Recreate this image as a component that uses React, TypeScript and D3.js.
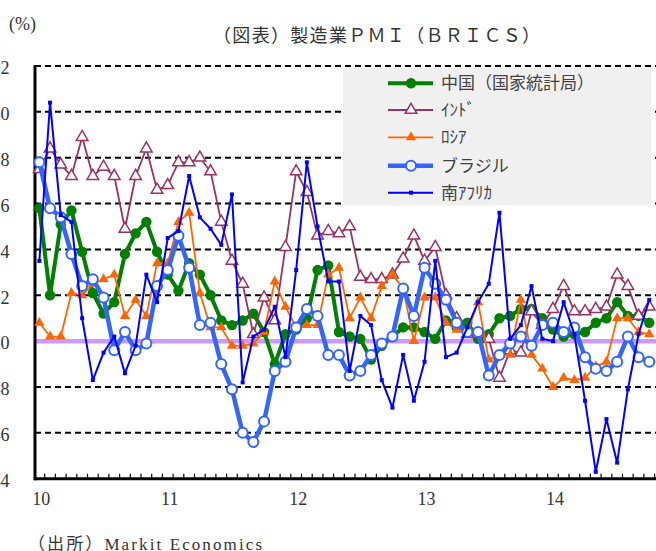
import { useEffect } from "react";
import * as d3 from "d3";

// monthly, Jan 2010 - Oct 2014
const years = ["10", "11", "12", "13", "14"];
const yTicks = [44, 46, 48, 50, 52, 54, 56, 58, 60, 62];

const china = [
  55.8, 52.0, 55.1, 55.7, 53.9, 52.1, 51.2, 51.7, 53.8, 54.7, 55.2, 53.9,
  52.9, 52.2, 53.4, 52.9, 52.0, 50.9, 50.7, 50.9, 51.2, 50.4, 49.0, 50.3,
  50.5, 51.0, 53.1, 53.3, 50.4, 50.2, 50.1, 49.2, 49.8, 50.2, 50.6, 50.6,
  50.4, 50.1, 50.9, 50.6, 50.8, 50.1, 50.3, 51.0, 51.1, 51.4, 51.4, 51.0,
  50.5, 50.2, 50.3, 50.4, 50.8, 51.0, 51.7, 51.1, 51.1, 50.8,
];
const india = [
  57.5, 58.4, 57.7, 57.2, 58.9, 57.2, 57.6, 57.2, 54.9, 57.2, 58.4, 56.6,
  56.8, 57.8, 57.8, 58.0, 57.4, 55.2, 53.5, 52.5, 50.3, 51.9, 50.9, 54.1,
  57.4, 56.5, 54.6, 54.8, 54.7, 55.0, 52.8, 52.7, 52.7, 52.9, 53.6, 54.6,
  53.5, 54.1, 52.0, 51.0, 50.3, 50.3, 50.1, 48.4, 49.6, 49.5, 51.3, 50.7,
  51.4, 52.4, 51.3, 51.3, 51.4, 51.5, 52.9, 52.4, 51.1, 51.5,
];
const russia = [
  50.8, 50.2, 50.2, 52.1, 52.0, 52.5, 52.7, 52.9, 51.1, 51.8, 51.1, 53.4,
  53.4, 55.2, 55.6, 52.1, 50.6, 50.6, 49.8, 49.8, 49.9, 50.4, 52.6, 51.5,
  50.6, 50.7, 50.7, 52.9, 53.2, 51.0, 51.9, 51.0, 52.4, 52.9, 52.3, 50.0,
  51.9, 51.9, 50.8, 50.5, 50.4, 51.7, 49.2, 49.4, 49.4, 51.8, 49.4, 48.8,
  48.0, 48.4, 48.3, 48.4, 48.9, 49.1, 51.0, 51.0, 50.4, 50.3,
];
const brazil = [
  57.8, 55.8, 55.4, 53.8, 52.4, 52.7, 51.9, 49.6, 50.4, 49.6, 49.9, 52.4,
  53.1, 54.6, 53.2, 50.7, 50.8, 49.0, 47.9, 46.0, 45.6, 46.5, 48.7, 49.1,
  50.6, 51.4, 51.1, 49.4, 49.4, 48.5, 48.7, 49.4, 49.9, 50.2, 52.3, 51.1,
  53.2, 52.5, 51.8, 50.8, 50.4, 50.4, 48.5, 49.4, 49.9, 50.2, 49.8, 50.7,
  50.8, 50.4, 50.6, 49.3, 48.8, 48.7, 49.1, 50.2, 49.3, 49.1,
];
const southAfrica = [
  53.5, 60.4, 55.5, 55.2, 51.0, 48.3, 49.5, 50.2, 48.6, 49.8, 52.9, 51.7,
  54.5, 54.8, 57.2, 55.4, 54.9, 54.2, 56.4, 48.2, 50.2, 50.5, 51.5, 49.3,
  53.1, 57.8, 55.0, 52.6, 52.6, 48.7, 51.1, 50.7, 48.3, 47.1, 49.4, 47.4,
  49.1, 53.5, 49.3, 49.5, 50.6, 51.7, 52.5, 55.6, 50.1, 50.7, 52.4, 50.1,
  50.0, 51.7, 50.3, 47.4, 44.3, 46.6, 44.7, 47.9, 50.3, 51.8,
];

const W = 656,
  H = 551;
const JP = "'Noto Sans CJK JP', sans-serif";
const MIN = "'Liberation Serif', 'Noto Sans CJK JP', serif";

const months = years.flatMap((yy) => d3.range(1, 13).map((m) => `${yy}-${m}`));
const x = d3.scaleBand<string>().domain(months).range([34, 34 + 60 * 10.7]);
const y = d3.scaleLinear().domain([44, 62]).range([478.7, 66]);
const cx = (i: number) => (x(months[i]) as number) + x.bandwidth() / 2;

type Marker = "dot" | "triOpen" | "triFill" | "ring" | "square";
const series: {
  name: string;
  values: number[];
  color: string;
  width: number;
  marker: Marker;
}[] = [
  { name: "中国（国家統計局）", values: china, color: "#008000", width: 4, marker: "dot" },
  { name: "ｲﾝﾄﾞ", values: india, color: "#993366", width: 1.8, marker: "triOpen" },
  { name: "ﾛｼｱ", values: russia, color: "#ff6600", width: 1.8, marker: "triFill" },
  { name: "ブラジル", values: brazil, color: "#3366ff", width: 4.5, marker: "ring" },
  { name: "南ｱﾌﾘｶ", values: southAfrica, color: "#0000ff", width: 2, marker: "square" },
];

const triOpen = d3.symbol(d3.symbolTriangle, 58)() as string;
const triFill = d3.symbol(d3.symbolTriangle, 46)() as string;

const drawMarker = (m: Marker, color: string, px: number, py: number, key: any) => {
  const t = `translate(${px},${py})`;
  if (m === "dot") return <circle key={key} cx={px} cy={py} r={5.2} fill={color} />;
  if (m === "ring")
    return <circle key={key} cx={px} cy={py} r={5} fill="#fff" stroke={color} strokeWidth={2} />;
  if (m === "triOpen")
    return <path key={key} d={triOpen} transform={t} fill="#fff" stroke={color} strokeWidth={1.5} />;
  if (m === "triFill") return <path key={key} d={triFill} transform={t} fill={color} />;
  return <rect key={key} x={px - 2} y={py - 2} width={4} height={4} fill={color} />;
};

const App = () => {
  useEffect(() => {
    document.body.style.margin = "0";
  }, []);

  const line = d3
    .line<number>()
    .x((_, i) => cx(i))
    .y((d) => y(d));

  const legendY = [83.3, 110, 137.3, 165.7, 192.7];

  return (
    <div style={{ position: "absolute", left: 0, top: 0 }}>
      <svg width={W} height={H} style={{ display: "block", background: "#fff" }}>
        <text x={9} y={30} fontSize={18} fontFamily={MIN} fill="#333">
          (%)
        </text>
        <text x={213} y={42} fontSize={18} fontFamily={MIN} fill="#333" textLength={327} lengthAdjust="spacing">
          （図表）製造業ＰＭＩ（ＢＲＩＣＳ）
        </text>

        {/* grid */}
        {yTicks
          .filter((t) => t !== 44 && t !== 50)
          .map((t) => (
            <line key={t} x1={35} x2={W} y1={y(t)} y2={y(t)} stroke="#000" strokeWidth={2} strokeDasharray="6,4" />
          ))}
        <line x1={35} x2={W} y1={y(50)} y2={y(50)} stroke="#cc99ff" strokeWidth={4.5} />

        {/* y labels */}
        {yTicks.map((t) => (
          <text key={t} x={9.5} y={y(t) + 2} dy="0.35em" textAnchor="end" fontSize={18} fontFamily={MIN} fill="#333">
            {t}
          </text>
        ))}

        {/* x axis */}
        {d3.range(1, 61).map((k) => (
          <line key={k} x1={34 + k * 10.7} x2={34 + k * 10.7} y1={y(44)} y2={y(44) - 5} stroke="#000" strokeWidth={1.2} />
        ))}
        <line x1={34} x2={W} y1={y(44)} y2={y(44)} stroke="#000" strokeWidth={3} />
        <line x1={35} x2={35} y1={y(62) - 1} y2={y(44) + 1.5} stroke="#000" strokeWidth={3} />
        {years.map((yy, k) => (
          <text key={yy} x={cx(k * 12) + 2} y={505} textAnchor="middle" fontSize={18} fontFamily={MIN} fill="#333">
            {yy}
          </text>
        ))}

        {/* series */}
        {series.map((s) => (
          <g key={s.name}>
            <path d={line(s.values) as string} fill="none" stroke={s.color} strokeWidth={s.width} strokeLinejoin="round" />
            {s.values.map((v, i) => drawMarker(s.marker, s.color, cx(i), y(v), i))}
          </g>
        ))}

        {/* legend */}
        <rect x={343} y={67.5} width={308} height={138} fill="#f0f0f0" />
        {series.map((s, i) => (
          <g key={s.name}>
            <line x1={388} x2={433} y1={legendY[i]} y2={legendY[i]} stroke={s.color} strokeWidth={s.width} />
            {drawMarker(s.marker, s.color, 411, legendY[i], "m")}
            <text x={441} y={legendY[i]} dy="0.36em" fontSize={17} fontFamily={JP} fill="#404040">
              {s.name}
            </text>
          </g>
        ))}

        <text x={28} y={550} fontSize={17} fontFamily={MIN} fill="#333" textLength={234} lengthAdjust="spacing">
          （出所）Markit Economics
        </text>
      </svg>
    </div>
  );
};

export default App;
